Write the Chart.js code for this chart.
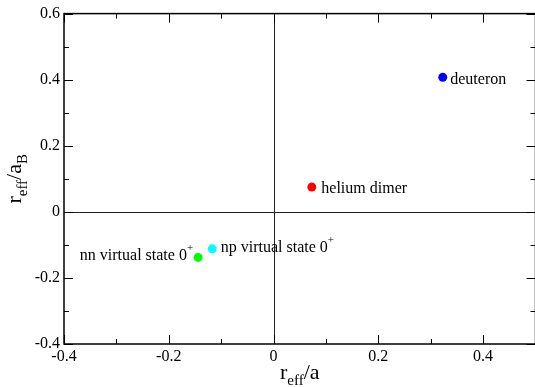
<!DOCTYPE html>
<html lang="en">
<head>
<meta charset="utf-8">
<title>r_eff/a vs r_eff/a_B</title>
<script src="https://cdn.jsdelivr.net/npm/chart.js@4/dist/chart.umd.min.js"></script>
<style>
html, body { margin: 0; padding: 0; background: #fff; overflow: hidden; }
#wrap { width: 535px; height: 387px; overflow: hidden; position: relative; }
#plot { position: absolute; left: 0; top: 0; }
</style>
</head>
<body>
<div id="wrap"><canvas id="plot" width="540" height="387" style="width:540px;height:387px"></canvas></div>
<script>
// data
const names = ['deuteron', 'helium dimer', 'np virtual state 0', 'nn virtual state 0'];
const sups = ['', '', '+', '+'];
const xVals = [0.323, 0.073, -0.117, -0.144];
const yVals = [0.407, 0.075, -0.112, -0.138];
const colors = ['#0000ff', '#ff0000', '#00ffff', '#00ff00'];
const xTicks = [-0.4, -0.2, 0, 0.2, 0.4];
const yTicks = [-0.4, -0.2, 0, 0.2, 0.4, 0.6];
const xMinor = [-0.3, -0.1, 0.1, 0.3];
const yMinor = [-0.3, -0.1, 0.1, 0.3, 0.5];

const FONT = 'Liberation Serif, Times New Roman, serif';
Chart.defaults.font.family = FONT;
Chart.defaults.color = '#000';
// label placement relative to the point: [dx, dy, align]
const labelPos = [[7.5, 6.5, 'left'], [9.5, 5.5, 'left'], [8.5, 3.5, 'left'], [-5, 2.5, 'right']];

function drawRich(ctx, parts, x, y) {
    // parts: [text, size, dy]
    let cx = x;
    for (const p of parts) {
        ctx.font = p[1] + 'px ' + FONT;
        ctx.fillText(p[0], cx, y + p[2]);
        cx += ctx.measureText(p[0]).width;
    }
    return cx - x;
}
function richWidth(ctx, parts) {
    let w = 0;
    for (const p of parts) {
        ctx.font = p[1] + 'px ' + FONT;
        w += ctx.measureText(p[0]).width;
    }
    return w;
}

const decor = {
    id: 'decor',
    beforeDatasetsDraw(chart) {
        const ctx = chart.ctx, a = chart.chartArea;
        const xs = chart.scales.x, ys = chart.scales.y;
        ctx.save();
        ctx.strokeStyle = '#222';
        ctx.lineWidth = 1;
        const x0 = Math.round(xs.getPixelForValue(0)) + 0.5;
        const y0 = Math.round(ys.getPixelForValue(0)) + 0.5;
        ctx.beginPath();
        ctx.moveTo(x0, a.top); ctx.lineTo(x0, a.bottom);
        ctx.moveTo(a.left, y0); ctx.lineTo(a.right, y0);
        ctx.stroke();
        ctx.restore();
    },
    afterDraw(chart) {
        const ctx = chart.ctx, a = chart.chartArea;
        const xs = chart.scales.x, ys = chart.scales.y;
        ctx.save();
        ctx.strokeStyle = '#000';
        ctx.lineWidth = 1.5;
        ctx.strokeRect(a.left, a.top, a.right - a.left, a.bottom - a.top);

        // inward ticks on all four sides
        ctx.lineWidth = 1;
        ctx.beginPath();
        const tickX = (v, len) => {
            const p = Math.round(xs.getPixelForValue(v)) + 0.5;
            ctx.moveTo(p, a.bottom); ctx.lineTo(p, a.bottom - len);
            ctx.moveTo(p, a.top); ctx.lineTo(p, a.top + len);
        };
        const tickY = (v, len) => {
            const p = Math.round(ys.getPixelForValue(v)) + 0.5;
            ctx.moveTo(a.left, p); ctx.lineTo(a.left + len, p);
            ctx.moveTo(a.right, p); ctx.lineTo(a.right - len, p);
        };
        xTicks.forEach(v => tickX(v, 9));
        xMinor.forEach(v => tickX(v, 5));
        yTicks.forEach(v => tickY(v, 9));
        yMinor.forEach(v => tickY(v, 5));
        ctx.stroke();

        // point labels
        ctx.fillStyle = '#000';
        ctx.textBaseline = 'alphabetic';
        const meta = chart.getDatasetMeta(0);
        names.forEach((n, i) => {
            const el = meta.data[i];
            const lp = labelPos[i];
            const parts = [[n, 16, 0]];
            if (sups[i]) parts.push([sups[i], 11, -9]);
            let x = el.x + lp[0];
            if (lp[2] === 'right') x -= richWidth(ctx, parts);
            drawRich(ctx, parts, x, el.y + lp[1]);
        });

        // axis titles
        const xt = [['r', 22, 0], ['eff', 15, 6], ['/a', 22, 0]];
        const cx = (a.left + a.right) / 2;
        drawRich(ctx, xt, cx - richWidth(ctx, xt) / 2, 379);

        const yt = [['r', 22, 0], ['eff', 15, 6], ['/a', 22, 0], ['B', 15, 6]];
        ctx.translate(21, (a.top + a.bottom) / 2);
        ctx.rotate(-Math.PI / 2);
        drawRich(ctx, yt, -richWidth(ctx, yt) / 2, 0);
        ctx.restore();
    }
};

new Chart(document.getElementById('plot'), {
    type: 'scatter',
    data: {
        datasets: [{
            data: xVals.map((x, i) => ({x: x, y: yVals[i]})),
            pointBackgroundColor: colors,
            pointBorderWidth: 0,
            pointRadius: 4.5,
            pointHoverRadius: 4.5
        }]
    },
    options: {
        responsive: false,
        animation: false,
        devicePixelRatio: 1,
        layout: { padding: { top: 13, right: 1.6, left: 0, bottom: 0 } },
        plugins: { legend: { display: false }, tooltip: { enabled: false } },
        scales: {
            x: {
                type: 'linear', min: -0.4, max: 0.5,
                afterBuildTicks: s => { s.ticks = xTicks.map(v => ({value: v})); },
                afterFit: s => { s.height = 43; },
                grid: { display: false, drawTicks: false },
                border: { display: false },
                ticks: {
                    color: '#000', padding: 3, autoSkip: false, maxRotation: 0,
                    font: { family: FONT, size: 16 },
                    callback: v => String(v)
                }
            },
            y: {
                type: 'linear', min: -0.4, max: 0.6,
                afterBuildTicks: s => { s.ticks = yTicks.map(v => ({value: v})); },
                afterFit: s => { s.width = 64; },
                grid: { display: false, drawTicks: false },
                border: { display: false },
                ticks: {
                    color: '#000', padding: 4, autoSkip: false,
                    font: { family: FONT, size: 16 },
                    callback: v => String(v)
                }
            }
        }
    },
    plugins: [decor]
});
</script>
</body>
</html>
